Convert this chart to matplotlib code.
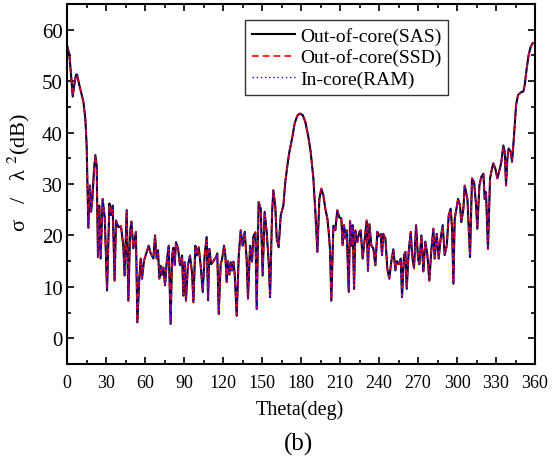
import matplotlib
matplotlib.use('Agg')
import matplotlib.pyplot as plt
from matplotlib.ticker import MultipleLocator

plt.rcParams['font.family'] = ['Liberation Serif', 'DejaVu Serif']
plt.rcParams['mathtext.fontset'] = 'stix'

# monostatic RCS sweep, theta in degrees, sigma/lambda^2 in dB
theta = [
    0, 1.8, 3.0, 4.4, 5.4, 6.9, 7.7, 9.5, 11.3, 12.6, 14.1, 15.1, 16.4, 17.7,
    18.5, 19.5, 20.8, 21.8, 22.8, 23.8, 24.9, 25.9, 27.4, 29.0, 30.8, 32.6,
    33.8, 35.1, 36.6, 37.7, 39.5, 41.5, 43.3, 44.3, 45.9, 47.2, 48.5, 49.5,
    51.0, 53.0, 54.1, 55.6, 56.7, 57.7, 59.2, 61.3, 62.8, 64.4, 66.4, 67.7,
    69.0, 70.0, 71.0, 72.0, 73.0, 74.1, 75.4, 76.7, 78.2, 79.7, 80.8, 81.8,
    82.8, 83.8, 85.4, 86.9, 88.5, 89.5, 90.5, 91.5, 93.0, 94.6, 96.2, 97.2,
    98.7, 99.8, 101.3, 102.8, 104.4, 105.9, 107.4, 108.5, 109.5, 110.9,
    112.3, 114.6, 115.6, 116.7, 118.2, 119.2, 120.8, 121.8, 122.8, 123.8,
    124.9, 125.9, 126.9, 128.0, 129.0, 130.5, 132.1, 133.6, 135.1, 136.7,
    138.2, 139.2, 140.8, 142.3, 143.3, 144.9, 145.9, 147.4, 149.0, 150.5,
    152.0, 153.6, 155.1, 156.2, 157.7, 158.7, 160.2, 161.3, 162.8, 164.4,
    166.4, 167.9, 169.5, 171.0, 173.1, 175.1, 177.2, 179.2, 181.3, 183.3,
    185.4, 187.4, 189.5, 191.0, 192.6, 194.1, 195.6, 197.2, 198.7, 200.3,
    201.3, 202.3, 203.3, 204.9, 206.4, 207.9, 209.5, 211.0, 212.0, 213.1,
    214.1, 215.1, 216.7, 217.7, 218.7, 219.7, 220.8, 221.8, 223.3, 224.9,
    225.9, 227.4, 229.0, 230.5, 231.5, 232.6, 234.1, 235.6, 237.2, 238.7,
    239.7, 241.3, 242.3, 243.3, 244.9, 246.4, 247.9, 249.5, 251.0, 252.6,
    253.6, 255.1, 256.7, 257.7, 259.2, 260.3, 261.3, 262.8, 264.4, 265.4,
    266.9, 268.5, 270.0, 271.0, 272.6, 274.1, 275.6, 277.2, 278.7, 280.3,
    281.8, 282.8, 284.4, 285.9, 287.4, 289.0, 290.5, 292.1, 293.6, 295.1,
    296.2, 297.2, 298.2, 299.7, 300.8, 302.3, 303.3, 304.9, 305.9, 306.9,
    308.0, 310.0, 311.5, 313.1, 314.6, 315.6, 317.2, 318.7, 320.3, 321.3,
    322.3, 323.8, 325.4, 326.9, 327.9, 329.5, 331.0, 332.6, 334.1, 335.6,
    336.7, 337.7, 338.7, 339.7, 341.3, 342.3, 343.3, 344.4, 345.4, 346.9,
    349.0, 351.0, 352.1, 353.6, 355.1, 356.7, 358.2, 360.0,
]

rcs_sas = [
    57.0, 55.1, 51.5, 47.0, 49.0, 51.2, 51.3, 49.2, 47.3, 46.0, 42.7, 37.5, 21.5, 29.7,
    24.6, 27.0, 33.0, 35.6, 33.6, 15.8, 25.8, 15.5, 27.1, 23.5, 9.3, 26.2,
    24.0, 25.8, 11.2, 22.9, 21.6, 21.8, 18.0, 12.2, 24.9, 7.3, 20.7, 22.7,
    17.5, 20.7, 3.1, 11.6, 15.5, 11.6, 15.1, 16.8, 18.0, 16.5, 15.5, 20.0,
    15.5, 17.1, 11.6, 14.1, 12.3, 13.8, 10.3, 14.8, 18.0, 2.8, 16.1, 17.6,
    14.2, 18.7, 17.5, 14.2, 16.1, 8.3, 14.8, 7.3, 14.2, 16.1, 12.6, 7.0,
    18.0, 16.1, 17.7, 14.2, 9.0, 16.3, 19.7, 7.4, 17.4, 14.4,
    14.9, 15.8, 16.5, 4.7, 14.5, 15.3, 18.0, 16.1, 10.9, 15.0,
    12.4, 14.8, 13.2, 14.9, 12.4, 4.4, 16.1, 21.0, 18.0, 20.7,
    15.3, 7.7, 18.0, 14.9, 19.8, 20.6, 5.7, 26.5, 25.2, 12.2,
    24.6, 20.6, 14.9, 8.0, 24.2, 28.8, 25.7, 19.4, 17.7, 23.9,
    25.8, 30.4, 33.6, 36.2, 38.8, 41.8, 43.3, 43.7, 43.4, 42.1,
    39.5, 36.3, 31.1, 24.6, 16.8, 27.1, 29.1, 27.8, 25.2, 23.2,
    20.7, 17.2, 7.3, 21.9, 21.0, 24.9, 23.5, 23.3, 18.1, 22.0,
    19.4, 21.0, 9.0, 22.8, 18.0, 22.0, 9.6, 21.0, 18.7, 20.7,
    21.0, 15.5, 19.4, 22.9, 13.1, 22.2, 18.0, 17.5, 14.2, 20.7,
    19.8, 20.3, 16.2, 20.3, 19.4, 13.5, 11.6, 15.0, 17.3, 13.2,
    15.0, 14.4, 15.5, 8.0, 16.2, 16.8, 9.6, 16.8, 20.7, 16.2,
    13.6, 22.0, 15.5, 14.4, 20.0, 13.0, 18.8, 16.2, 11.2, 17.3,
    21.3, 15.5, 20.3, 15.5, 19.4, 22.0, 16.2, 18.0, 23.9, 25.2,
    21.3, 10.6, 23.2, 25.5, 27.1, 25.8, 22.6, 25.2, 29.7, 28.5,
    27.1, 15.8, 31.1, 30.4, 26.0, 21.3, 29.7, 31.4, 32.0, 27.1,
    28.4, 17.4, 31.1, 33.0, 34.0, 33.0, 31.1, 32.6, 34.3, 37.5,
    36.3, 29.7, 34.8, 36.9, 36.3, 34.3, 37.5, 41.4, 45.3, 47.3,
    47.8, 48.0, 49.3, 52.5, 55.1, 56.7, 57.4, 57.4,
]
# the three solvers give the same result
rcs_ssd = list(rcs_sas)
rcs_ram = list(rcs_sas)

fig = plt.figure(figsize=(5.53, 4.60), dpi=100)
ax = fig.add_axes([0.1212, 0.2065, 0.8463, 0.7826])

ax.plot(theta, rcs_sas, color='black', lw=1.5, label='Out-of-core(SAS)')
ax.plot(theta, rcs_ssd, color='red', lw=1.2, ls=(0, (4, 2.5)), label='Out-of-core(SSD)')
ax.plot(theta, rcs_ram, color='blue', lw=1.0, ls=(0, (1, 2)), label='In-core(RAM)')

ax.set_xlim(0, 360)
ax.set_ylim(-5, 65)
ax.xaxis.set_major_locator(MultipleLocator(30))
ax.xaxis.set_minor_locator(MultipleLocator(15))
ax.yaxis.set_major_locator(MultipleLocator(10))
ax.yaxis.set_minor_locator(MultipleLocator(5))
ax.tick_params(which='both', direction='in', top=True, right=True, width=1.2)
ax.tick_params(which='major', length=5)
ax.tick_params(which='minor', length=3)
ax.tick_params(axis='x', labelsize=13, pad=7)
ax.tick_params(axis='y', labelsize=15, pad=3)
for s in ax.spines.values():
    s.set_linewidth(1.5)

ax.set_ylabel(r'σ   /   λ $^{2}$(dB)', fontsize=16)
ax.yaxis.set_label_coords(-0.075, 0.535)
fig.text(0.543, 1 - 410 / 460, 'Theta(deg)', ha='center', va='center', fontsize=14.5)
fig.text(0.539, 1 - 444 / 460, '(b)', ha='center', va='center', fontsize=18)

leg = ax.legend(loc='upper right', bbox_to_anchor=(0.814, 0.956), fontsize=14,
                frameon=True, fancybox=False, edgecolor='black', handlelength=2.2,
                borderpad=0.35, labelspacing=0.2, handletextpad=0.25, borderaxespad=0)
leg.get_frame().set_linewidth(1.0)

fig.savefig('out.png', dpi=100)
